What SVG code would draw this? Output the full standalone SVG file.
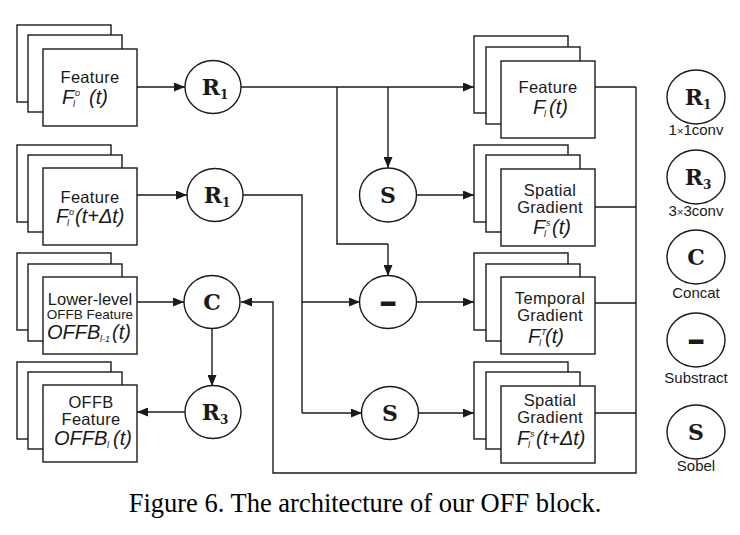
<svg xmlns="http://www.w3.org/2000/svg" width="740" height="535" viewBox="0 0 740 535">
<defs>
<marker id="ah" markerUnits="userSpaceOnUse" markerWidth="11" markerHeight="9" refX="11" refY="4.5" orient="auto">
<path d="M0,0 L11,4.5 L0,9 z" fill="#1a1a1a"/>
</marker>
</defs>
<style>
.bx{fill:#fff;stroke:#1a1a1a;stroke-width:1.4}
.op{fill:#fff;stroke:#1a1a1a;stroke-width:1.4}
.ln{fill:none;stroke:#1a1a1a;stroke-width:1.4}
.ar{fill:none;stroke:#1a1a1a;stroke-width:1.4;marker-end:url(#ah)}
.t{font-family:"Liberation Sans",Arial,sans-serif;font-size:16.5px;fill:#1a1a1a;text-anchor:middle;letter-spacing:0.3px}
.t2{font-family:"Liberation Sans",Arial,sans-serif;font-size:13.5px;fill:#1a1a1a;text-anchor:middle}
.m{font-family:"Liberation Sans",Arial,sans-serif;font-style:italic;font-size:20px;fill:#1a1a1a}
.s{font-family:"Liberation Sans",Arial,sans-serif;font-style:italic;font-size:9px;fill:#1a1a1a}
.o{font-family:"DejaVu Serif",serif;font-weight:bold;font-size:22px;fill:#1a1a1a;text-anchor:middle}
.sb{font-size:12px}
.mi{font-family:"DejaVu Serif",serif;font-weight:bold;font-size:34px;fill:#1a1a1a;text-anchor:middle}
.lg{font-family:"Liberation Sans",Arial,sans-serif;font-size:15px;fill:#1a1a1a;text-anchor:middle}
.cap{font-family:"Liberation Serif","Times New Roman",serif;font-size:26.5px;fill:#000;text-anchor:middle}
</style>
<rect width="740" height="535" fill="#fff"/>

<g id="connectors">
<path class="ar" d="M137,87 H185"/>
<path class="ar" d="M241,87 H474"/>
<path class="ln" d="M337,87 V244 H388"/>
<path class="ar" d="M388,244 V276"/>
<path class="ar" d="M388,87 V168"/>
<path class="ar" d="M416,195 H474"/>
<path class="ar" d="M137,195 H187"/>
<path class="ln" d="M243,195 H302 V413"/>
<path class="ar" d="M302,413 H362"/>
<path class="ar" d="M302,302 H360"/>
<path class="ar" d="M416,302 H474"/>
<path class="ar" d="M418,413 H474"/>
<path class="ar" d="M137,302 H184"/>
<path class="ar" d="M212,328 V386"/>
<path class="ar" d="M185,412 H137"/>
<path class="ln" d="M595,87 H636 M595,207 H636 M595,303 H636 M595,413 H636"/>
<path class="ar" d="M636,87 V473 H273 V302 H241"/>
</g>

<g id="in-feature-t">
<rect class="bx" x="17" y="25" width="94" height="77"/>
<rect class="bx" x="28" y="35" width="94" height="77"/>
<rect class="bx" x="43" y="49" width="94" height="77"/>
<text class="t" x="90" y="83">Feature</text>
<text class="m" x="62" y="104">F</text><text class="s" x="75" y="96">o</text><text class="s" x="73" y="107">l</text><text class="m" x="89" y="104">(t)</text>
</g>

<g id="in-feature-tdt">
<rect class="bx" x="17" y="145" width="94" height="77"/>
<rect class="bx" x="28" y="155" width="94" height="77"/>
<rect class="bx" x="43" y="168" width="94" height="77"/>
<text class="t" x="90" y="203">Feature</text>
<text class="m" x="56" y="223">F</text><text class="s" x="69" y="215">o</text><text class="s" x="67" y="226">l</text><text class="m" x="75" y="223">(t+Δt)</text>
</g>

<g id="in-lower-offb">
<rect class="bx" x="17" y="253" width="94" height="77"/>
<rect class="bx" x="28" y="264" width="94" height="77"/>
<rect class="bx" x="43" y="277" width="94" height="77"/>
<text class="t" x="90" y="305" style="letter-spacing:0">Lower-level</text>
<text class="t2" x="90" y="319">OFFB Feature</text>
<text class="m" x="47" y="339">OFFB</text><text class="s" x="100" y="342">l-1</text><text class="m" x="112" y="339">(t)</text>
</g>

<g id="out-offb">
<rect class="bx" x="17" y="362" width="94" height="77"/>
<rect class="bx" x="28" y="372" width="94" height="77"/>
<rect class="bx" x="43" y="385" width="94" height="77"/>
<text class="t" x="91" y="408">OFFB</text>
<text class="t" x="91" y="425">Feature</text>
<text class="m" x="54" y="445">OFFB</text><text class="s" x="107" y="448">l</text><text class="m" x="113" y="445">(t)</text>
</g>

<g id="out-feature">
<rect class="bx" x="474" y="36" width="94" height="77"/>
<rect class="bx" x="486" y="47" width="94" height="77"/>
<rect class="bx" x="501" y="61" width="94" height="77"/>
<text class="t" x="548" y="93">Feature</text>
<text class="m" x="533" y="114">F</text><text class="s" x="544" y="117">l</text><text class="m" x="549" y="114">(t)</text>
</g>

<g id="out-spatial-t">
<rect class="bx" x="474" y="145" width="94" height="77"/>
<rect class="bx" x="486" y="155" width="94" height="77"/>
<rect class="bx" x="501" y="169" width="94" height="77"/>
<text class="t" x="550" y="196">Spatial</text>
<text class="t" x="550" y="213">Gradient</text>
<text class="m" x="533" y="234">F</text><text class="s" x="546" y="226">s</text><text class="s" x="544" y="237">l</text><text class="m" x="552" y="234">(t)</text>
</g>

<g id="out-temporal">
<rect class="bx" x="474" y="253" width="94" height="77"/>
<rect class="bx" x="486" y="264" width="94" height="77"/>
<rect class="bx" x="501" y="277" width="94" height="77"/>
<text class="t" x="550" y="304">Temporal</text>
<text class="t" x="550" y="321">Gradient</text>
<text class="m" x="528" y="343">F</text><text class="s" x="541" y="335">T</text><text class="s" x="539" y="346">l</text><text class="m" x="545" y="343">(t)</text>
</g>

<g id="out-spatial-tdt">
<rect class="bx" x="474" y="362" width="94" height="77"/>
<rect class="bx" x="486" y="372" width="94" height="77"/>
<rect class="bx" x="501" y="386" width="94" height="77"/>
<text class="t" x="550" y="406">Spatial</text>
<text class="t" x="550" y="423">Gradient</text>
<text class="m" x="517" y="445">F</text><text class="s" x="530" y="437">s</text><text class="s" x="528" y="448">l</text><text class="m" x="536" y="445">(t+Δt)</text>
</g>

<g id="op-r1a">
<ellipse class="op" cx="213" cy="87" rx="28" ry="26.5"/>
<text class="o" x="215" y="95">R<tspan class="sb" dy="4">1</tspan></text>
</g>
<g id="op-r1b">
<ellipse class="op" cx="215" cy="195" rx="28" ry="26.5"/>
<text class="o" x="217" y="203">R<tspan class="sb" dy="4">1</tspan></text>
</g>
<g id="op-c">
<ellipse class="op" cx="212" cy="302" rx="28" ry="26.5"/>
<text class="o" x="212" y="310">C</text>
</g>
<g id="op-r3">
<ellipse class="op" cx="213" cy="412" rx="28" ry="26.5"/>
<text class="o" x="215" y="420">R<tspan class="sb" dy="4">3</tspan></text>
</g>
<g id="op-s1">
<ellipse class="op" cx="388" cy="195" rx="28.5" ry="27"/>
<text class="o" x="388" y="203">S</text>
</g>
<g id="op-minus">
<ellipse class="op" cx="388" cy="302" rx="28.5" ry="26.5"/>
<text class="mi" x="0" y="0" transform="translate(388,313) scale(1.4,1)">-</text>
</g>
<g id="op-s2">
<ellipse class="op" cx="390" cy="413" rx="28.5" ry="26.5"/>
<text class="o" x="390" y="421">S</text>
</g>

<g id="legend">
<ellipse class="op" cx="696" cy="97" rx="29" ry="27"/>
<text class="o" x="698" y="105">R<tspan class="sb" dy="4">1</tspan></text>
<text class="lg" x="696" y="135">1<tspan style="font-size:11px">×</tspan>1conv</text>
<ellipse class="op" cx="696" cy="177" rx="29" ry="27"/>
<text class="o" x="698" y="185">R<tspan class="sb" dy="4">3</tspan></text>
<text class="lg" x="696" y="216">3<tspan style="font-size:11px">×</tspan>3conv</text>
<ellipse class="op" cx="696" cy="257" rx="29" ry="27"/>
<text class="o" x="696" y="265">C</text>
<text class="lg" x="696" y="298">Concat</text>
<ellipse class="op" cx="696" cy="340" rx="29" ry="27"/>
<text class="mi" x="0" y="0" transform="translate(696,351) scale(1.4,1)">-</text>
<text class="lg" x="696" y="383">Substract</text>
<ellipse class="op" cx="696" cy="432" rx="29" ry="27"/>
<text class="o" x="696" y="440">S</text>
<text class="lg" x="696" y="471">Sobel</text>
</g>

<text class="cap" x="365" y="512">Figure 6. The architecture of our OFF block.</text>
</svg>
